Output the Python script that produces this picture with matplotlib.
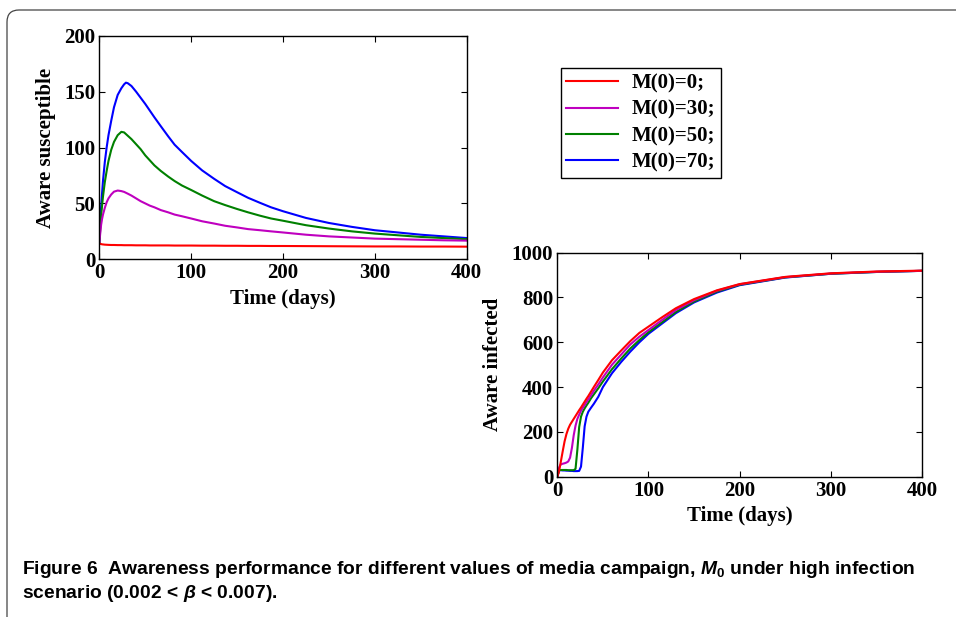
import matplotlib
matplotlib.use("Agg")
import matplotlib.pyplot as plt
from matplotlib.patches import FancyBboxPatch

SERIF = ["Liberation Serif", "DejaVu Serif"]
SANS = ["Liberation Sans", "DejaVu Sans"]

plt.rcParams["font.family"] = SERIF
plt.rcParams["font.weight"] = "bold"
plt.rcParams["axes.labelweight"] = "bold"
plt.rcParams["mathtext.fontset"] = "custom"
plt.rcParams["mathtext.rm"] = "Liberation Sans:bold"
plt.rcParams["mathtext.it"] = "Liberation Sans:italic:bold"

# ---------------------------------------------------------------- data
labels = ["M(0)=0;", "M(0)=30;", "M(0)=50;", "M(0)=70;"]
colors = ["r", "m", "g", "b"]

# left panel: aware susceptible
t_s = [0, 1, 2, 3, 4, 6, 8, 10, 13, 16, 20, 24, 27, 29, 31, 35, 40, 45, 50, 55,
       60, 67, 75, 82, 90, 100, 112, 125, 137, 150, 162, 175, 187, 200, 225, 250,
       275, 300, 325, 350, 375, 400]
sus_m0 = [14.3, 13.9, 13.6, 13.4, 13.3, 13.1, 13.0, 12.9, 12.8, 12.8, 12.7, 12.7,
          12.6, 12.6, 12.6, 12.6, 12.5, 12.5, 12.5, 12.4, 12.4, 12.4, 12.4, 12.3,
          12.3, 12.3, 12.2, 12.2, 12.1, 12.1, 12.0, 12.0, 11.9, 11.9, 11.8, 11.7,
          11.6, 11.5, 11.5, 11.4, 11.4, 11.3]
sus_m30 = [14.5, 23, 31, 36, 40, 46, 51, 54.5, 58, 60.5, 61.5, 61, 60.3, 59.5,
           58.7, 57, 54.5, 52, 50, 48, 46.5, 44, 42, 40, 38.5, 36.5, 34, 32, 30,
           28.5, 27, 26, 25, 24, 22, 20.5, 19.5, 18.5, 18, 17.5, 17, 16.7]
sus_m50 = [14.5, 27, 39, 48, 56, 69, 79, 88, 98, 105, 111, 114, 113.5, 112, 110.5,
           107.5, 103, 98.5, 93, 88.5, 84, 79, 74, 70, 66, 62, 57, 52, 48.5, 45,
           42, 39, 36.5, 34.5, 30.5, 27.5, 25, 23, 21.5, 20, 19, 18]
sus_m70 = [14.5, 32, 47, 59, 70, 87, 100, 111, 124, 136, 147, 153, 156.5, 158,
           157.5, 155, 150, 144.5, 139, 133, 127, 119, 110, 102.5, 96, 88, 79.5,
           72, 65.5, 60, 55, 50.5, 46.5, 43, 37, 32.5, 29, 26, 24, 22, 20.5, 19]

# right panel: aware infected
t_i = [0, 1, 2, 3, 4, 6, 8, 10, 12, 14, 16, 18, 20, 22, 24, 26, 28, 30, 32, 34,
       37, 40, 45, 50, 60, 70, 80, 90, 100, 115, 130, 150, 175, 200, 250, 300,
       350, 400]
inf_m0 = [0, 12, 28, 48, 70, 115, 158, 190, 214, 232, 245, 258, 271, 284, 297,
          309, 322, 335, 348, 360, 380, 400, 432, 465, 520, 563, 605, 642, 670,
          712, 752, 793, 832, 860, 892, 908, 916, 920]
inf_m30 = [0, 20, 40, 50, 55, 58, 60, 63, 68, 85, 128, 185, 228, 258, 277, 295,
           308, 320, 333, 345, 364, 383, 412, 443, 500, 545, 590, 625, 655, 700,
           744, 788, 830, 859, 891, 907, 915, 919]
inf_m50 = [0, 15, 27, 30, 30, 30, 30, 30, 29, 29, 29, 29, 35, 120, 222, 268, 290,
           305, 318, 330, 350, 367, 395, 425, 480, 527, 572, 610, 645, 690, 735,
           782, 826, 857, 890, 906, 914, 919]
inf_m70 = [0, 15, 27, 29, 29, 28, 28, 27, 27, 26, 26, 25, 25, 25, 26, 45, 130,
           225, 268, 290, 308, 325, 357, 400, 462, 512, 558, 600, 638, 684, 730,
           778, 822, 855, 889, 906, 914, 919]

sus = [sus_m0, sus_m30, sus_m50, sus_m70]
inf = [inf_m0, inf_m30, inf_m50, inf_m70]
for s in sus:
    assert len(s) == len(t_s), len(s)
for s in inf:
    assert len(s) == len(t_i), len(s)

# ---------------------------------------------------------------- figure
W, H = 956, 617
fig = plt.figure(figsize=(W / 100, H / 100), dpi=100, facecolor="white")

# rounded frame of the journal figure box
frame = FancyBboxPatch((0.07, -0.5), 12.0, H / 100 - 0.10 + 0.5,
                       boxstyle="round,pad=0,rounding_size=0.12",
                       transform=fig.dpi_scale_trans, facecolor="none",
                       edgecolor="#444444", linewidth=0.9)
fig.patches.append(frame)


def px_axes(left, top, right, bottom):
    return fig.add_axes([left / W, 1 - bottom / H, (right - left) / W, (bottom - top) / H])


ax1 = px_axes(99.3, 35.7, 466.7, 259.3)
ax2 = px_axes(557.3, 252.7, 922.0, 476.7)

for ax in (ax1, ax2):
    ax.set_xlim(0, 400)
    ax.set_xticks([0, 100, 200, 300, 400])
    ax.tick_params(direction="in", top=True, right=True, length=4, width=0.8,
                   labelsize=15, pad=3)
    for spine in ax.spines.values():
        spine.set_linewidth(1.0)
        spine.set_color("black")
    ax.set_xlabel("Time (days)", fontsize=15, labelpad=4)

# draw blue first so red ends on top
for i in (3, 2, 1, 0):
    ax1.plot(t_s, sus[i], color=colors[i], lw=1.5)
    ax2.plot(t_i, inf[i], color=colors[i], lw=1.5, label=labels[i])

ax1.set_ylim(0, 200)
ax1.set_yticks([0, 50, 100, 150, 200])
ax1.set_ylabel("Aware susceptible", fontsize=15, labelpad=6)

ax2.set_ylim(0, 1000)
ax2.set_yticks([0, 200, 400, 600, 800, 1000])
ax2.set_ylabel("Aware infected", fontsize=15, labelpad=6)

handles, labs = ax2.get_legend_handles_labels()
order = [labs.index(l) for l in labels]
leg = fig.legend([handles[k] for k in order], labels, loc="upper left",
                 bbox_to_anchor=(560.7 / W, 1 - 68.3 / H), borderaxespad=0,
                 fontsize=15, handlelength=2.5, handletextpad=0.66,
                 labelspacing=0.3, borderpad=0.26, fancybox=False, framealpha=1)
leg.get_frame().set_edgecolor("black")
leg.get_frame().set_linewidth(1.0)

cap_kw = dict(family=SANS, fontweight="bold", fontsize=13.85, ha="left", va="baseline")
fig.text(22 / W, 1 - 574 / H,
         "Figure 6  Awareness performance for different values of media campaign, "
         "$M_0$ under high infection", **cap_kw)
fig.text(22 / W, 1 - 598 / H, r"scenario (0.002 < $\beta$ < 0.007).", **cap_kw)

fig.savefig("out.png", dpi=100, facecolor="white")
